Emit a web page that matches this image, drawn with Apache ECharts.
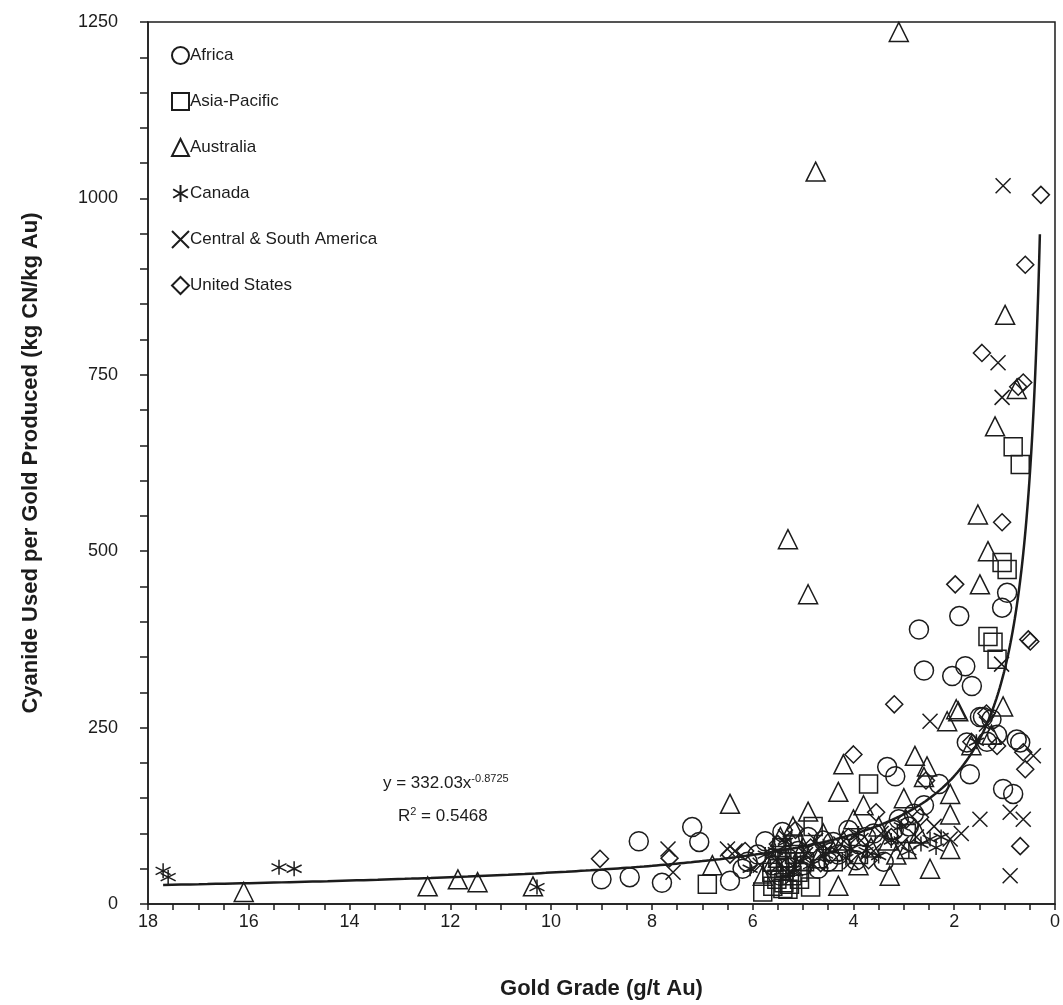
<!DOCTYPE html>
<html><head><meta charset="utf-8">
<script src="https://cdn.jsdelivr.net/npm/echarts@6/dist/echarts.min.js"></script>
<style>html,body{margin:0;padding:0;background:#fff}#c{width:1063px;height:1005px}</style>
</head><body><div id="c"></div>
<script>
// ---- data: [gold grade g/t, kg CN / kg Au] ----
const africa = [[8.26,89],[7.2,109],[7.06,88],[9.0,35],[8.44,38],[7.8,30],[6.45,33],[5.75,89],[5.41,102],[2.7,389],[1.9,408],[0.95,441],[1.05,420],[2.6,331],[2.04,323],[1.78,337],[1.65,309],[1.43,265],[1.75,229],[1.69,184],[3.33,194],[3.17,181],[1.03,163],[0.83,156],[0.69,229],[0.76,233],[1.49,265],[1.26,262],[4.9,95],[5.1,75],[4.6,90],[4.3,70],[3.9,85],[3.6,100],[5.0,55],[3.4,60],[2.9,110],[2.3,170],[1.35,230],[1.15,240],[6.1,60],[5.9,70],[4.5,60],[3.1,120],[4.1,105],[6.2,50],[2.6,140],[5.6,55],[5.3,65],[4.8,72],[4.4,88],[3.75,95],[3.2,105],[5.45,40],[4.7,50],[3.95,62],[2.8,128]];
const asiaPacific = [[6.9,28],[5.8,17],[4.8,110],[3.7,170],[4.85,24],[1.33,379],[1.23,371],[1.15,347],[1.05,484],[0.95,474],[0.83,648],[0.69,623],[5.3,21],[5.38,30],[5.22,40],[5.47,50],[5.32,60],[5.17,70],[5.42,80],[5.62,45],[5.52,35],[5.27,28],[5.07,35],[4.97,60],[2.95,100],[5.35,52],[5.1,45],[5.5,65],[5.2,85],[4.4,60],[3.9,70],[5.6,25],[5.4,22]];
const australia = [[3.1,1236],[4.75,1038],[0.99,835],[0.76,730],[1.19,677],[5.3,517],[4.9,439],[1.53,552],[1.33,500],[1.49,453],[1.92,273],[2.14,259],[1.03,280],[1.96,276],[6.45,142],[16.1,17],[12.45,25],[11.85,35],[11.46,31],[10.36,25],[4.2,198],[4.3,159],[2.78,210],[2.54,195],[2.08,156],[2.08,127],[4.9,131],[2.94,78],[2.48,50],[3.28,40],[4.3,26],[2.08,78],[4.0,120],[3.8,140],[3.5,110],[4.6,100],[5.6,60],[5.0,80],[3.3,90],[2.6,180],[1.66,225],[1.26,240],[4.4,75],[3.0,150],[5.8,40],[6.8,55],[5.45,95],[4.7,65],[4.2,90],[3.65,80],[3.15,70],[2.7,100],[5.2,110],[3.9,55]];
const canada = [[17.7,47],[17.6,38],[15.4,52],[15.1,50],[10.28,24],[2.48,92],[2.66,85],[3.25,90],[3.75,75],[4.15,65],[4.55,70],[5.05,60],[5.55,75],[6.05,50],[3.05,110],[2.26,95],[2.36,80],[1.56,230],[5.75,70],[4.85,55],[5.35,88],[4.6,82],[4.05,78],[3.5,68],[5.2,45],[3.9,100],[2.9,75]];
const centralSouthAmerica = [[1.03,1018],[1.13,767],[1.05,718],[2.48,259],[1.49,120],[0.89,130],[0.63,120],[0.89,40],[0.43,210],[2.08,92],[7.68,78],[6.5,78],[7.58,45],[1.06,340],[1.36,255],[3.45,100],[4.25,85],[4.95,70],[5.35,95],[5.85,55],[6.35,75],[3.85,90],[2.75,95],[1.86,100],[5.55,62],[4.75,90],[4.05,60],[3.6,75],[3.05,85],[5.15,50],[2.4,110]];
const unitedStates = [[1.45,781],[0.63,739],[0.73,733],[0.59,906],[0.28,1005],[1.05,541],[1.98,453],[0.53,375],[0.49,372],[3.19,283],[4.0,212],[0.59,191],[0.63,215],[1.15,224],[0.69,82],[9.03,64],[2.68,123],[1.36,270],[3.55,130],[4.45,70],[5.15,105],[6.15,75],[6.45,70],[2.56,175],[3.25,95],[1.66,230],[4.85,80],[7.65,65],[5.5,85],[4.65,58],[4.1,95],[3.7,62],[2.95,120],[5.3,55]];
// trend line shown in the chart: y = 332.03 x^-0.8725 (R² = 0.5468)
const trendCoef = 332.03, trendExp = -0.8725, trendFrom = 0.3, trendTo = 17.7;
const xTicks = [0,2,4,6,8,10,12,14,16,18];
const yTicks = [0,250,500,750,1000,1250];

const trend = [];
for (let i = 0; i <= 400; i++) {
  const x = trendFrom * Math.pow(trendTo / trendFrom, i / 400);
  trend.push([x, trendCoef * Math.pow(x, trendExp)]);
}

const ink = '#1c1c1c';
const font = 'Liberation Sans, Arial, sans-serif';
const asterisk = 'path://M5 0L5 10M0.67 2.5L9.33 7.5M9.33 2.5L0.67 7.5';
const cross = 'path://M0 0L10 10M10 0L0 10';

function sc(name, data, symbol, size) {
  return {
    name, type: 'scatter', data, symbol, symbolSize: size,
    itemStyle: { color: 'rgba(255,255,255,0)', borderColor: ink, borderWidth: 1.5, opacity: 1 },
    emphasis: { disabled: true }, z: 3
  };
}

const chart = echarts.init(document.getElementById('c'));
chart.setOption({
  animation: false,
  grid: { left: 148, right: 7, top: 22, bottom: 100, show: true, borderColor: ink, borderWidth: 1.5 },
  legend: {
    data: ['Africa','Asia-Pacific','Australia','Canada','Central & South America','United States'],
    orient: 'vertical', left: 166, top: 41, itemGap: 27, itemWidth: 17, itemHeight: 17,
    textStyle: { fontFamily: font, fontSize: 17, color: ink, padding: [0,0,0,-4] }
  },
  xAxis: {
    type: 'value', inverse: true, min: 0, max: 18, interval: 2,
    name: 'Gold Grade (g/t Au)', nameLocation: 'middle', nameGap: 74,
    nameTextStyle: { fontFamily: font, fontSize: 22, fontWeight: 'bold', color: ink },
    axisLine: { onZero: false, lineStyle: { color: ink, width: 1.5 } },
    axisTick: { show: true, length: 6, lineStyle: { color: ink, width: 1.5 } },
    minorTick: { show: true, splitNumber: 4, length: 6, lineStyle: { color: ink, width: 1.5 } },
    axisLabel: { fontFamily: font, fontSize: 18, color: ink, margin: 9, formatter: v => String(v) },
    splitLine: { show: false }
  },
  yAxis: {
    type: 'value', min: 0, max: 1250, interval: 250, position: 'left',
    name: 'Cyanide Used per Gold Produced (kg CN/kg Au)', nameLocation: 'middle', nameGap: 106,
    nameTextStyle: { fontFamily: font, fontSize: 22, fontWeight: 'bold', color: ink },
    axisLine: { show: true, onZero: false, lineStyle: { color: ink, width: 1.5 } },
    axisTick: { show: true, length: 8, lineStyle: { color: ink, width: 1.5 } },
    minorTick: { show: true, splitNumber: 5, length: 8, lineStyle: { color: ink, width: 1.5 } },
    axisLabel: { fontFamily: font, fontSize: 18, color: ink, margin: 30, formatter: v => String(v) },
    splitLine: { show: false }
  },
  series: [
    sc('Africa', africa, 'circle', 19),
    sc('Asia-Pacific', asiaPacific, 'rect', 18),
    sc('Australia', australia, 'triangle', 19),
    sc('Canada', canada, asterisk, 15),
    sc('Central & South America', centralSouthAmerica, cross, 15),
    sc('United States', unitedStates, 'diamond', 17),
    { type: 'line', data: trend, showSymbol: false, symbol: 'none', smooth: false,
      lineStyle: { color: ink, width: 2.5 }, silent: true, z: 4 }
  ],
  graphic: [{
    type: 'text', left: 383, top: 773, z: 10,
    style: {
      rich: {
        a: { fontFamily: font, fontSize: 17, fill: ink },
        s: { fontFamily: font, fontSize: 11, fill: ink, verticalAlign: 'top', padding: [0,0,10,0] }
      },
      text: '{a|y = 332.03x}{s|-0.8725}'
    }
  }, {
    type: 'text', left: 398, top: 806, z: 10,
    style: {
      rich: {
        a: { fontFamily: font, fontSize: 17, fill: ink },
        s: { fontFamily: font, fontSize: 11, fill: ink, padding: [0,0,10,0] }
      },
      text: '{a|R}{s|2}{a| = 0.5468}'
    }
  }]
});
</script></body></html>
